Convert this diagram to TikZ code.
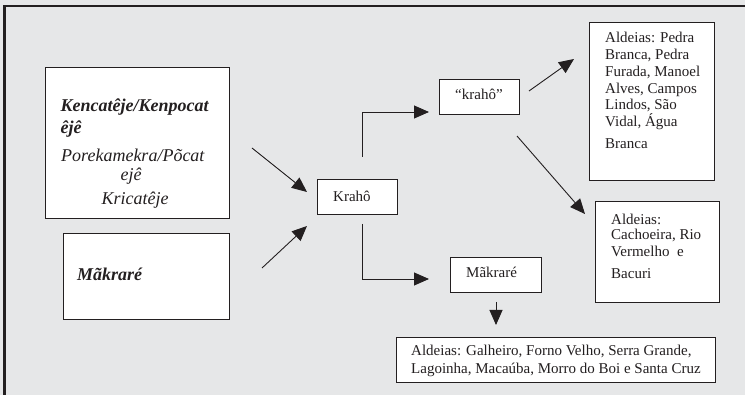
\documentclass[tikz,border=0pt]{standalone}
\usepackage{fontspec}
\setmainfont{Liberation Serif}
\usetikzlibrary{arrows.meta}
\definecolor{bg}{HTML}{E6E7E8}
\definecolor{ink}{HTML}{231F20}
\tikzset{
  box/.style={draw=ink, line width=1.2pt, fill=white, rectangle, inner sep=0pt, anchor=north west},
  lbl/.style={anchor=base west, inner sep=0pt, text=ink, font=\fontsize{15}{17}\selectfont},
  big/.style={anchor=base west, inner sep=0pt, text=ink, font=\fontsize{18}{21}\selectfont\itshape},
  bigb/.style={big, font=\fontsize{18}{21}\selectfont\bfseries\itshape},
  bigc/.style={big, anchor=base},
  conn/.style={draw=ink, line width=0.9pt, -{Triangle[length=15pt,width=13pt]}},
}
\begin{document}
\begin{tikzpicture}[x=1pt,y=-1pt]
\fill[bg] (0,0) rectangle (745,395);
\useasboundingbox (0,0) rectangle (745,395);
\draw[ink, line width=2.5pt] (4.5,395) -- (4.5,6) -- (745,6);

% boxes
\node[box, minimum width=184pt, minimum height=151pt] (b1) at (45,67) {};
\node[box, minimum width=166pt, minimum height=86pt] (b2) at (63,233) {};
\node[box, minimum width=80pt, minimum height=35pt] (kr) at (317,179) {};
\node[box, minimum width=80pt, minimum height=35pt] (kq) at (439,79) {};
\node[box, minimum width=91pt, minimum height=35pt] (mk) at (450,257) {};
\node[box, minimum width=125pt, minimum height=158pt] (pd) at (589,22) {};
\node[box, minimum width=124pt, minimum height=101pt] (cc) at (595,201) {};
\node[box, minimum width=319pt, minimum height=45pt] (bt) at (396,337) {};

% left box texts
\node[bigb] (t1) at (60.5,111.5) {Kencatêje/Kenpocat};
\node[bigb] (t2) at (60.5,133.5) {êjê};
\node[big] (t3) at (61,162) {Porekamekra/Põcat};
\node[bigc] (t4) at (131,181) {ejê};
\node[bigc] (t5) at (135,205) {Kricatêje};
\node[bigb] (m1) at (77,281) {Mãkraré};

% middle texts
\node[lbl] (krt) at (333,202) {Krahô};
\node[lbl] (kqt) at (455,100) {“krahô”};
\node[lbl] (mkt) at (466,278) {Mãkraré};

% Pedra box
\node[lbl] (p1) at (605,42.7) {Aldeias: Pedra};
\node[lbl] (p2) at (605,59.3) {Branca, Pedra};
\node[lbl] (p3) at (605,76.7) {Furada, Manoel};
\node[lbl] (p4) at (605,93.3) {Alves, Campos};
\node[lbl] (p5) at (605,109.3) {Lindos, São};
\node[lbl] (p6) at (605,126.7) {Vidal, Água};
\node[lbl] (p7) at (605,148.3) {Branca};

% Cachoeira box
\node[lbl] (c1) at (611,224.5) {Aldeias:};
\node[lbl] (c2) at (611,239.5) {Cachoeira, Rio};
\node[lbl] (c3) at (611,257) {Vermelho\ \ e};
\node[lbl] (c4) at (611,278.5) {Bacuri};

% bottom box
\node[lbl] (g1) at (411,356) {Aldeias: Galheiro, Forno Velho, Serra Grande,};
\node[lbl] (g2) at (411,373.5) {Lagoinha, Macaúba, Morro do Boi e Santa Cruz};

% connector ends
\coordinate (a1s) at (252,148); \coordinate (a1e) at (307,192);
\coordinate (a2s) at (262,268); \coordinate (a2e) at (307,226);
\coordinate (a3s) at (362,157); \coordinate (a3e) at (429,112);
\coordinate (a4s) at (362,224); \coordinate (a4e) at (429,279);
\coordinate (a5s) at (496,302); \coordinate (a5e) at (496,325);
\coordinate (a6s) at (529,91);  \coordinate (a6e) at (574,59);
\coordinate (a7s) at (517,136); \coordinate (a7e) at (585,214);

\draw[conn] (a1s) -- (a1e);
\draw[conn] (a2s) -- (a2e);
\draw[conn] (a3s) |- (a3e);
\draw[conn] (a4s) |- (a4e);
\draw[conn] (a5s) -- (a5e);
\draw[conn] (a6s) -- (a6e);
\draw[conn] (a7s) -- (a7e);
\end{tikzpicture}
\end{document}
